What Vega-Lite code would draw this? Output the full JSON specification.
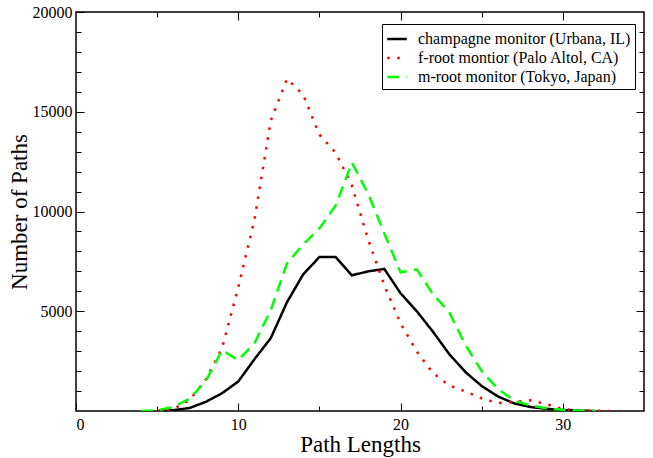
{
  "$schema": "https://vega.github.io/schema/vega-lite/v6.json",
  "autosize": "none",
  "width": 568,
  "height": 399,
  "padding": {"left": 76, "top": 12, "right": 9, "bottom": 47},
  "background": "white",
  "config": {
    "view": {"stroke": "black", "strokeWidth": 1.5},
    "font": "Liberation Serif",
    "axis": {
      "labelFontSize": 16,
      "titleFontSize": 23,
      "titleFontWeight": "normal",
      "labelColor": "black",
      "titleColor": "black",
      "tickColor": "black",
      "tickWidth": 1,
      "domain": false,
      "grid": false
    }
  },
  "data": {
    "values": [
      {"s": "champagne monitor (Urbana, IL)", "x": 5, "y": 0},
      {"s": "champagne monitor (Urbana, IL)", "x": 6, "y": 40},
      {"s": "champagne monitor (Urbana, IL)", "x": 7, "y": 150},
      {"s": "champagne monitor (Urbana, IL)", "x": 8, "y": 460},
      {"s": "champagne monitor (Urbana, IL)", "x": 9, "y": 890},
      {"s": "champagne monitor (Urbana, IL)", "x": 10, "y": 1480},
      {"s": "champagne monitor (Urbana, IL)", "x": 11, "y": 2600},
      {"s": "champagne monitor (Urbana, IL)", "x": 12, "y": 3650},
      {"s": "champagne monitor (Urbana, IL)", "x": 13, "y": 5450},
      {"s": "champagne monitor (Urbana, IL)", "x": 14, "y": 6850},
      {"s": "champagne monitor (Urbana, IL)", "x": 15, "y": 7720},
      {"s": "champagne monitor (Urbana, IL)", "x": 16, "y": 7720},
      {"s": "champagne monitor (Urbana, IL)", "x": 17, "y": 6800},
      {"s": "champagne monitor (Urbana, IL)", "x": 18, "y": 7000},
      {"s": "champagne monitor (Urbana, IL)", "x": 19, "y": 7120},
      {"s": "champagne monitor (Urbana, IL)", "x": 20, "y": 5900},
      {"s": "champagne monitor (Urbana, IL)", "x": 21, "y": 5000},
      {"s": "champagne monitor (Urbana, IL)", "x": 22, "y": 3970},
      {"s": "champagne monitor (Urbana, IL)", "x": 23, "y": 2850},
      {"s": "champagne monitor (Urbana, IL)", "x": 24, "y": 1950},
      {"s": "champagne monitor (Urbana, IL)", "x": 25, "y": 1250},
      {"s": "champagne monitor (Urbana, IL)", "x": 26, "y": 730},
      {"s": "champagne monitor (Urbana, IL)", "x": 27, "y": 380},
      {"s": "champagne monitor (Urbana, IL)", "x": 28, "y": 200},
      {"s": "champagne monitor (Urbana, IL)", "x": 29, "y": 110},
      {"s": "champagne monitor (Urbana, IL)", "x": 30, "y": 50},
      {"s": "champagne monitor (Urbana, IL)", "x": 31, "y": 15},
      {"s": "champagne monitor (Urbana, IL)", "x": 32, "y": 0},
      {"s": "f-root montior (Palo Altol, CA)", "x": 5, "y": 0},
      {"s": "f-root montior (Palo Altol, CA)", "x": 6, "y": 90},
      {"s": "f-root montior (Palo Altol, CA)", "x": 7, "y": 550},
      {"s": "f-root montior (Palo Altol, CA)", "x": 8, "y": 1580},
      {"s": "f-root montior (Palo Altol, CA)", "x": 9, "y": 3150},
      {"s": "f-root montior (Palo Altol, CA)", "x": 10, "y": 6200},
      {"s": "f-root montior (Palo Altol, CA)", "x": 11, "y": 9600},
      {"s": "f-root montior (Palo Altol, CA)", "x": 12, "y": 14550},
      {"s": "f-root montior (Palo Altol, CA)", "x": 13, "y": 16650},
      {"s": "f-root montior (Palo Altol, CA)", "x": 14, "y": 15850},
      {"s": "f-root montior (Palo Altol, CA)", "x": 15, "y": 13850},
      {"s": "f-root montior (Palo Altol, CA)", "x": 16, "y": 12950},
      {"s": "f-root montior (Palo Altol, CA)", "x": 17, "y": 11300},
      {"s": "f-root montior (Palo Altol, CA)", "x": 18, "y": 8600},
      {"s": "f-root montior (Palo Altol, CA)", "x": 19, "y": 6300},
      {"s": "f-root montior (Palo Altol, CA)", "x": 20, "y": 4400},
      {"s": "f-root montior (Palo Altol, CA)", "x": 21, "y": 2980},
      {"s": "f-root montior (Palo Altol, CA)", "x": 22, "y": 1900},
      {"s": "f-root montior (Palo Altol, CA)", "x": 23, "y": 1280},
      {"s": "f-root montior (Palo Altol, CA)", "x": 24, "y": 980},
      {"s": "f-root montior (Palo Altol, CA)", "x": 25, "y": 630},
      {"s": "f-root montior (Palo Altol, CA)", "x": 26, "y": 400},
      {"s": "f-root montior (Palo Altol, CA)", "x": 27, "y": 450},
      {"s": "f-root montior (Palo Altol, CA)", "x": 28, "y": 540},
      {"s": "f-root montior (Palo Altol, CA)", "x": 29, "y": 340},
      {"s": "f-root montior (Palo Altol, CA)", "x": 30, "y": 90},
      {"s": "f-root montior (Palo Altol, CA)", "x": 31, "y": 30},
      {"s": "f-root montior (Palo Altol, CA)", "x": 32, "y": 10},
      {"s": "f-root montior (Palo Altol, CA)", "x": 33, "y": 0},
      {"s": "m-root monitor (Tokyo, Japan)", "x": 4, "y": 0},
      {"s": "m-root monitor (Tokyo, Japan)", "x": 5, "y": 30},
      {"s": "m-root monitor (Tokyo, Japan)", "x": 6, "y": 200},
      {"s": "m-root monitor (Tokyo, Japan)", "x": 7, "y": 620},
      {"s": "m-root monitor (Tokyo, Japan)", "x": 8, "y": 1500},
      {"s": "m-root monitor (Tokyo, Japan)", "x": 9, "y": 3050},
      {"s": "m-root monitor (Tokyo, Japan)", "x": 10, "y": 2550},
      {"s": "m-root monitor (Tokyo, Japan)", "x": 11, "y": 3400},
      {"s": "m-root monitor (Tokyo, Japan)", "x": 12, "y": 5050},
      {"s": "m-root monitor (Tokyo, Japan)", "x": 13, "y": 7400},
      {"s": "m-root monitor (Tokyo, Japan)", "x": 14, "y": 8350},
      {"s": "m-root monitor (Tokyo, Japan)", "x": 15, "y": 9150},
      {"s": "m-root monitor (Tokyo, Japan)", "x": 16, "y": 10300},
      {"s": "m-root monitor (Tokyo, Japan)", "x": 17, "y": 12450},
      {"s": "m-root monitor (Tokyo, Japan)", "x": 18, "y": 10900},
      {"s": "m-root monitor (Tokyo, Japan)", "x": 19, "y": 8900},
      {"s": "m-root monitor (Tokyo, Japan)", "x": 20, "y": 6950},
      {"s": "m-root monitor (Tokyo, Japan)", "x": 21, "y": 7100},
      {"s": "m-root monitor (Tokyo, Japan)", "x": 22, "y": 5850},
      {"s": "m-root monitor (Tokyo, Japan)", "x": 23, "y": 4950},
      {"s": "m-root monitor (Tokyo, Japan)", "x": 24, "y": 3300},
      {"s": "m-root monitor (Tokyo, Japan)", "x": 25, "y": 2000},
      {"s": "m-root monitor (Tokyo, Japan)", "x": 26, "y": 1100},
      {"s": "m-root monitor (Tokyo, Japan)", "x": 27, "y": 520},
      {"s": "m-root monitor (Tokyo, Japan)", "x": 28, "y": 280},
      {"s": "m-root monitor (Tokyo, Japan)", "x": 29, "y": 140},
      {"s": "m-root monitor (Tokyo, Japan)", "x": 30, "y": 60},
      {"s": "m-root monitor (Tokyo, Japan)", "x": 31, "y": 10},
      {"s": "m-root monitor (Tokyo, Japan)", "x": 32, "y": 0}
    ]
  },
  "resolve": {"axis": {"x": "independent", "y": "independent"}},
  "layer": [
    {
      "mark": {"type": "line", "strokeWidth": 2.5, "clip": true},
      "encoding": {
        "x": {"field": "x", "type": "quantitative", "scale": {"domain": [0, 35], "nice": false, "zero": false},
          "axis": {"orient": "bottom", "title": "Path Lengths", "labelFont": "Liberation Serif", "titleFont": "Liberation Serif", "values": [0, 10, 20, 30], "tickSize": -8, "labelPadding": 13, "titlePadding": 1}},
        "y": {"field": "y", "type": "quantitative", "scale": {"domain": [0, 20000], "nice": false},
          "axis": {"orient": "left", "title": "Number of Paths", "labelFont": "Liberation Serif", "titleFont": "Liberation Serif", "values": [5000, 10000, 15000, 20000], "tickSize": -8, "labelPadding": 12, "titlePadding": 1, "format": "d"}},
        "color": {"field": "s", "type": "nominal",
          "scale": {"domain": ["champagne monitor (Urbana, IL)", "f-root montior (Palo Altol, CA)", "m-root monitor (Tokyo, Japan)"], "range": ["#000000", "#ff0000", "#00ff00"]},
          "legend": {"title": null, "orient": "none", "legendX": 306, "legendY": 12, "strokeColor": "black", "padding": 4, "fillColor": "white",
            "labelFont": "Liberation Serif", "labelFontSize": 16, "labelColor": "black", "symbolType": "stroke", "symbolSize": 380, "symbolStrokeWidth": 2.5, "labelOffset": 10, "rowPadding": 0, "labelLimit": 300}},
        "strokeDash": {"field": "s", "type": "nominal",
          "scale": {"domain": ["champagne monitor (Urbana, IL)", "f-root montior (Palo Altol, CA)", "m-root monitor (Tokyo, Japan)"], "range": [[1, 0], [2.5, 7.5], [12, 7]]},
          "legend": null},
        "strokeWidth": {"field": "s", "type": "nominal",
          "scale": {"domain": ["champagne monitor (Urbana, IL)", "f-root montior (Palo Altol, CA)", "m-root monitor (Tokyo, Japan)"], "range": [2.5, 2.5, 3]},
          "legend": null}
      }
    },
    {
      "mark": {"type": "point", "opacity": 0},
      "encoding": {
        "x": {"field": "x", "type": "quantitative", "axis": {"orient": "bottom", "title": null, "labels": false, "values": [5, 15, 25], "tickSize": -5}},
        "y": {"field": "y", "type": "quantitative", "axis": {"orient": "left", "title": null, "labels": false, "values": [1000, 2000, 3000, 4000, 6000, 7000, 8000, 9000, 11000, 12000, 13000, 14000, 16000, 17000, 18000, 19000], "tickSize": -5}}
      }
    },
    {
      "mark": {"type": "point", "opacity": 0},
      "encoding": {
        "x": {"field": "x", "type": "quantitative", "axis": {"orient": "top", "title": null, "labels": false, "values": [10, 20, 30], "tickSize": -8}},
        "y": {"field": "y", "type": "quantitative", "axis": {"orient": "right", "title": null, "labels": false, "values": [5000, 10000, 15000], "tickSize": -8}}
      }
    },
    {
      "mark": {"type": "point", "opacity": 0},
      "encoding": {
        "x": {"field": "x", "type": "quantitative", "axis": {"orient": "top", "title": null, "labels": false, "values": [5, 15, 25], "tickSize": -5}},
        "y": {"field": "y", "type": "quantitative", "axis": {"orient": "right", "title": null, "labels": false, "values": [1000, 2000, 3000, 4000, 6000, 7000, 8000, 9000, 11000, 12000, 13000, 14000, 16000, 17000, 18000, 19000], "tickSize": -5}}
      }
    }
  ]
}
